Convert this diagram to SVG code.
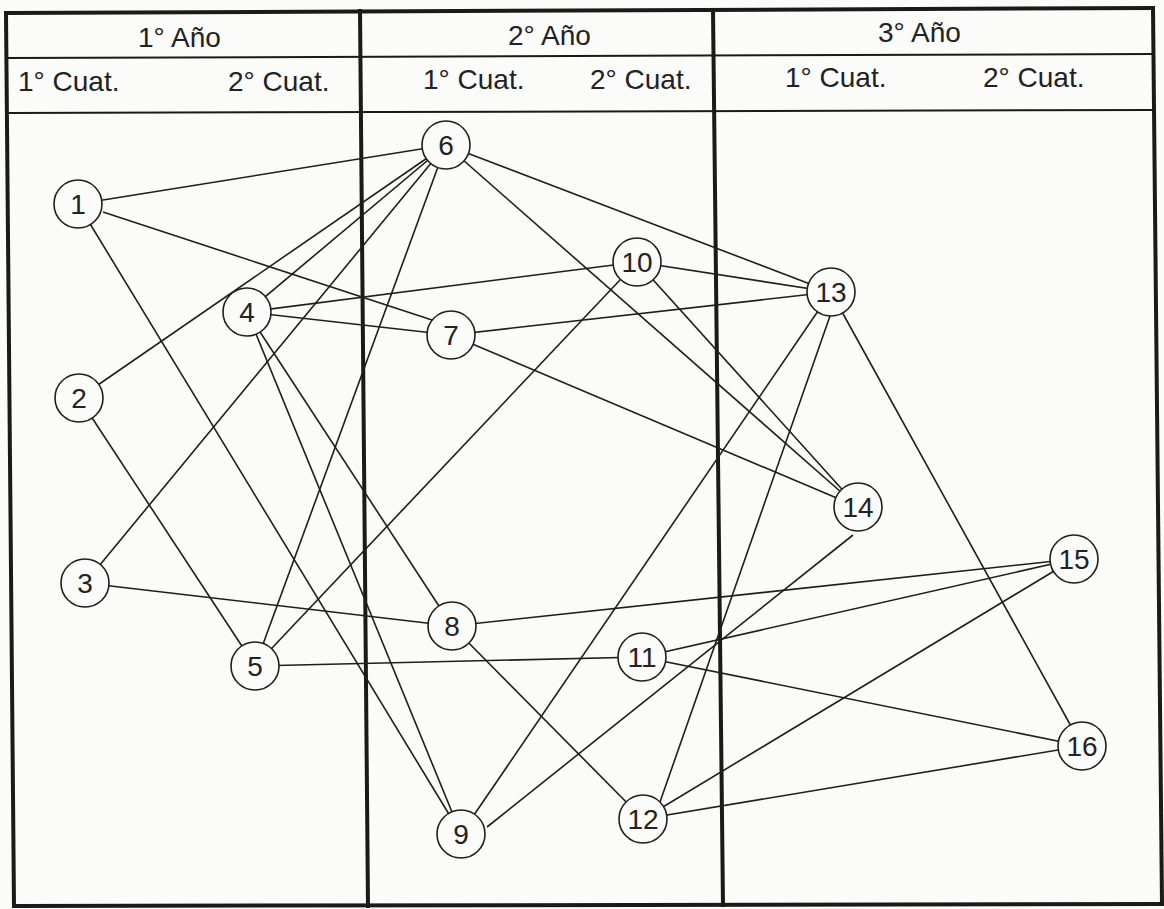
<svg xmlns="http://www.w3.org/2000/svg" width="1164" height="909" viewBox="0 0 1164 909">
<style>
.frame{stroke:#1a1a1a;stroke-width:4;fill:none;stroke-linecap:square}
.hline{stroke:#1a1a1a;stroke-width:2;fill:none}
.hdr{font-family:"Liberation Sans",Arial,sans-serif;font-size:28px;fill:#222}
.edge{stroke:#1e1e1e;stroke-width:1.6;fill:none}
.node circle{fill:#fbfbfa;stroke:#1e1e1e;stroke-width:1.6}
.node text{font-family:"Liberation Sans",Arial,sans-serif;font-size:28px;fill:#222;text-anchor:middle}
</style>
<rect width="1164" height="909" fill="#fbfbfa"/>
<g id="table">
<line class="frame" x1="6" y1="13" x2="1153" y2="8"/>
<line class="frame" x1="6" y1="13" x2="14" y2="906"/>
<line class="frame" x1="1153" y1="8" x2="1162" y2="904"/>
<line class="frame" x1="14" y1="906" x2="1162" y2="904"/>
<line class="frame" x1="360" y1="11" x2="368" y2="906"/>
<line class="frame" x1="713" y1="10" x2="723" y2="905"/>
<line class="hline" x1="6" y1="58" x2="1154" y2="54"/>
<line class="hline" x1="6" y1="113" x2="1154" y2="110"/>
<text class="hdr" x="138" y="47">1° Año</text>
<text class="hdr" x="508" y="45">2° Año</text>
<text class="hdr" x="878" y="42">3° Año</text>
<text class="hdr" x="18" y="91">1° Cuat.</text>
<text class="hdr" x="228" y="91">2° Cuat.</text>
<text class="hdr" x="423" y="89">1° Cuat.</text>
<text class="hdr" x="590" y="89">2° Cuat.</text>
<text class="hdr" x="785" y="87">1° Cuat.</text>
<text class="hdr" x="983" y="87">2° Cuat.</text>
</g>
<g id="connectors">
<line class="edge" x1="78" y1="204" x2="446" y2="145"/>
<line class="edge" x1="103" y1="212" x2="432" y2="320"/>
<line class="edge" x1="78" y1="204" x2="461" y2="834"/>
<line class="edge" x1="79" y1="398" x2="446" y2="145"/>
<line class="edge" x1="79" y1="398" x2="255" y2="666"/>
<line class="edge" x1="85" y1="583" x2="446" y2="145"/>
<line class="edge" x1="85" y1="583" x2="452" y2="626"/>
<line class="edge" x1="247" y1="312" x2="446" y2="145"/>
<line class="edge" x1="247" y1="312" x2="637" y2="262"/>
<line class="edge" x1="247" y1="312" x2="451" y2="335"/>
<line class="edge" x1="247" y1="312" x2="452" y2="626"/>
<line class="edge" x1="247" y1="312" x2="461" y2="834"/>
<line class="edge" x1="255" y1="666" x2="446" y2="145"/>
<line class="edge" x1="255" y1="666" x2="637" y2="262"/>
<line class="edge" x1="255" y1="666" x2="642" y2="657"/>
<line class="edge" x1="446" y1="145" x2="831" y2="292"/>
<line class="edge" x1="446" y1="145" x2="858" y2="507"/>
<line class="edge" x1="451" y1="335" x2="831" y2="292"/>
<line class="edge" x1="451" y1="335" x2="858" y2="507"/>
<line class="edge" x1="452" y1="626" x2="1074" y2="559"/>
<line class="edge" x1="452" y1="626" x2="643" y2="819"/>
<line class="edge" x1="461" y1="834" x2="831" y2="292"/>
<line class="edge" x1="487" y1="827" x2="853" y2="535"/>
<line class="edge" x1="637" y1="262" x2="831" y2="292"/>
<line class="edge" x1="637" y1="262" x2="858" y2="507"/>
<line class="edge" x1="642" y1="657" x2="1074" y2="559"/>
<line class="edge" x1="642" y1="657" x2="1082" y2="746"/>
<line class="edge" x1="660" y1="802" x2="830" y2="316"/>
<line class="edge" x1="643" y1="819" x2="1074" y2="559"/>
<line class="edge" x1="643" y1="819" x2="1082" y2="746"/>
<line class="edge" x1="831" y1="292" x2="1082" y2="746"/>
</g>
<g id="n1" class="node"><circle cx="78" cy="204" r="24"/><text x="78" y="214">1</text></g>
<g id="n2" class="node"><circle cx="79" cy="398" r="24"/><text x="79" y="408">2</text></g>
<g id="n3" class="node"><circle cx="85" cy="583" r="24"/><text x="85" y="593">3</text></g>
<g id="n4" class="node"><circle cx="247" cy="312" r="24"/><text x="247" y="322">4</text></g>
<g id="n5" class="node"><circle cx="255" cy="666" r="24"/><text x="255" y="676">5</text></g>
<g id="n6" class="node"><circle cx="446" cy="145" r="24"/><text x="446" y="155">6</text></g>
<g id="n7" class="node"><circle cx="451" cy="335" r="24"/><text x="451" y="345">7</text></g>
<g id="n8" class="node"><circle cx="452" cy="626" r="24"/><text x="452" y="636">8</text></g>
<g id="n9" class="node"><circle cx="461" cy="834" r="24"/><text x="461" y="844">9</text></g>
<g id="n10" class="node"><circle cx="637" cy="262" r="24"/><text x="637" y="272">10</text></g>
<g id="n11" class="node"><circle cx="642" cy="657" r="24"/><text x="642" y="667">11</text></g>
<g id="n12" class="node"><circle cx="643" cy="819" r="24"/><text x="643" y="829">12</text></g>
<g id="n13" class="node"><circle cx="831" cy="292" r="24"/><text x="831" y="302">13</text></g>
<g id="n14" class="node"><circle cx="858" cy="507" r="24"/><text x="858" y="517">14</text></g>
<g id="n15" class="node"><circle cx="1074" cy="559" r="24"/><text x="1074" y="569">15</text></g>
<g id="n16" class="node"><circle cx="1082" cy="746" r="24"/><text x="1082" y="756">16</text></g>
</svg>
